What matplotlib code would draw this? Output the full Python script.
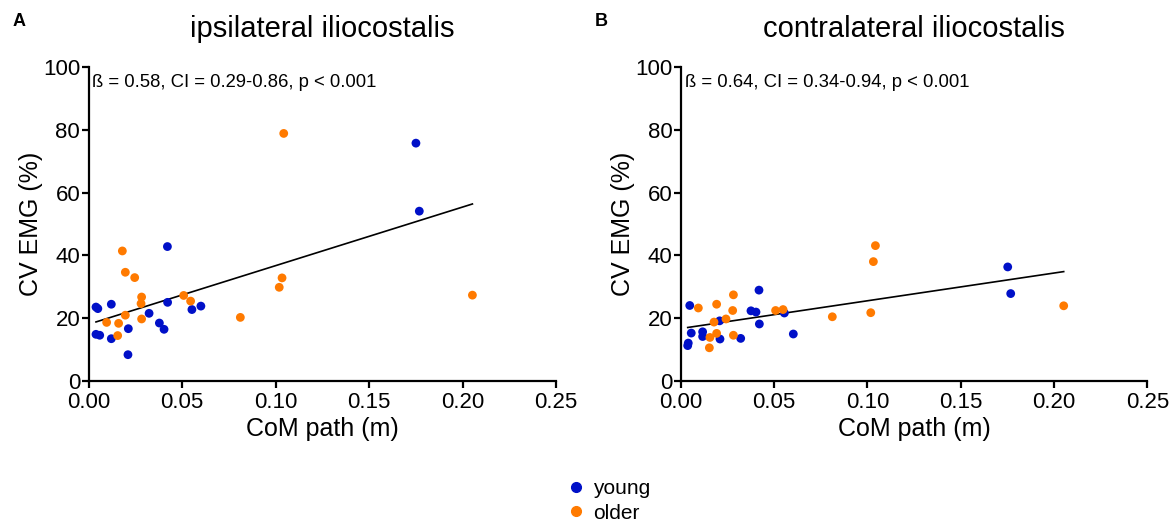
import matplotlib
matplotlib.use("Agg")
import matplotlib.pyplot as plt
import numpy as np
from matplotlib.lines import Line2D

plt.rcParams['font.family'] = ['Liberation Sans', 'DejaVu Sans']

# ---------------- data ----------------
titles = ["ipsilateral iliocostalis", "contralateral iliocostalis"]
panel_labels = ["A", "B"]
stats_text = ["ß = 0.58, CI = 0.29-0.86, p < 0.001",
              "ß = 0.64, CI = 0.34-0.94, p < 0.001"]
group_names = ["young", "older"]

# Panel A - ipsilateral
ipsi_young_x = [0.004, 0.005, 0.004, 0.006, 0.0122, 0.0122, 0.0213, 0.0211, 0.0324,
                0.0379, 0.0404, 0.0422, 0.0423, 0.0553, 0.0601, 0.1751, 0.1769]
ipsi_young_y = [23.5, 23.0, 14.8, 14.5, 24.4, 13.4, 16.6, 8.3, 21.5,
                18.4, 16.4, 42.8, 25.0, 22.7, 23.8, 75.8, 54.1]
ipsi_older_x = [0.0097, 0.0161, 0.0156, 0.0181, 0.0197, 0.0197, 0.0247, 0.0284, 0.0281,
                0.0284, 0.0509, 0.0546, 0.0812, 0.1020, 0.1035, 0.1044, 0.2053]
ipsi_older_y = [18.6, 18.3, 14.4, 41.4, 34.6, 20.9, 32.9, 26.7, 24.6,
                19.7, 27.2, 25.4, 20.2, 29.8, 32.8, 78.9, 27.3]
ipsi_fit = (18.0, 187.0)   # intercept, slope

# Panel B - contralateral
contra_young_x = [0.0048, 0.0056, 0.0037, 0.0040, 0.0117, 0.0117, 0.0208, 0.0210, 0.0321,
                  0.0376, 0.0403, 0.0419, 0.0421, 0.0555, 0.0603, 0.1752, 0.1768]
contra_young_y = [24.0, 15.2, 11.2, 12.0, 15.6, 14.1, 19.1, 13.3, 13.5,
                  22.3, 21.9, 28.9, 18.1, 21.6, 14.9, 36.3, 27.8]
contra_older_x = [0.0094, 0.0178, 0.0156, 0.0153, 0.0192, 0.0192, 0.0242, 0.0282, 0.0278,
                  0.0282, 0.0508, 0.0548, 0.0812, 0.1018, 0.1032, 0.1043, 0.2052]
contra_older_y = [23.2, 18.7, 13.8, 10.5, 24.4, 15.1, 19.7, 27.4, 22.4,
                  14.5, 22.4, 22.7, 20.4, 21.7, 38.0, 43.1, 23.9]
contra_fit = (16.65, 88.5)

x_ticks = [0.00, 0.05, 0.10, 0.15, 0.20, 0.25]
y_ticks = [0, 20, 40, 60, 80, 100]

panels = [
    (ipsi_young_x, ipsi_young_y, ipsi_older_x, ipsi_older_y, ipsi_fit),
    (contra_young_x, contra_young_y, contra_older_x, contra_older_y, contra_fit),
]

c_young = '#0010c8'
c_older = '#ff7a00'

W, H = 1175, 526
fig = plt.figure(figsize=(W / 100, H / 100), dpi=100)

axes_px = [(88.5, 556.0), (680.8, 1147.3)]
y0_px, y100_px = 380.7, 67.3
label_px = [(13, 21), (595, 21)]

for i, (yx, yy, ox, oy, fit) in enumerate(panels):
    l, r = axes_px[i]
    ax = fig.add_axes([l / W, 1 - y0_px / H, (r - l) / W, (y0_px - y100_px) / H])
    ax.scatter(yx, yy, s=40, color=c_young, edgecolors='none', zorder=3, clip_on=False)
    ax.scatter(ox, oy, s=40, color=c_older, edgecolors='none', zorder=3, clip_on=False)
    allx = np.array(yx + ox)
    xs = np.array([allx.min(), allx.max()])
    ax.plot(xs, fit[0] + fit[1] * xs, color='black', lw=1.2, zorder=2)

    ax.set_xlim(0, 0.25)
    ax.set_ylim(0, 100)
    ax.set_xticks(x_ticks)
    ax.set_xticklabels([f"{t:.2f}" for t in x_ticks])
    ax.set_yticks(y_ticks)
    ax.set_yticklabels([str(t) for t in y_ticks])
    for s in ['top', 'right']:
        ax.spines[s].set_visible(False)
    for s in ['left', 'bottom']:
        ax.spines[s].set_linewidth(1.6)
    ax.tick_params(axis='both', direction='out', length=5, width=1.6, labelsize=16)
    ax.tick_params(axis='y', pad=1)
    ax.tick_params(axis='x', pad=3)
    ax.set_xlabel("CoM path (m)", fontsize=18, labelpad=3)
    ax.set_ylabel("CV EMG (%)", fontsize=18, labelpad=0)
    ax.set_title(titles[i], fontsize=21, pad=22)
    ax.text(0.008, 0.95, stats_text[i], transform=ax.transAxes, fontsize=13.3,
            ha='left', va='center')
    fig.text(label_px[i][0] / W, 1 - label_px[i][1] / H, panel_labels[i],
             fontsize=13, fontweight='bold', ha='left', va='center')

handles = [Line2D([], [], marker='o', ls='none', color=c_young, markersize=7),
           Line2D([], [], marker='o', ls='none', color=c_older, markersize=7)]
fig.legend(handles, group_names, loc='center', bbox_to_anchor=(608 / W, 1 - 501 / H),
           frameon=False, fontsize=15, handletextpad=0.3, labelspacing=0.25,
           handlelength=1.0, borderaxespad=0)

fig.savefig("out.png", dpi=100)
